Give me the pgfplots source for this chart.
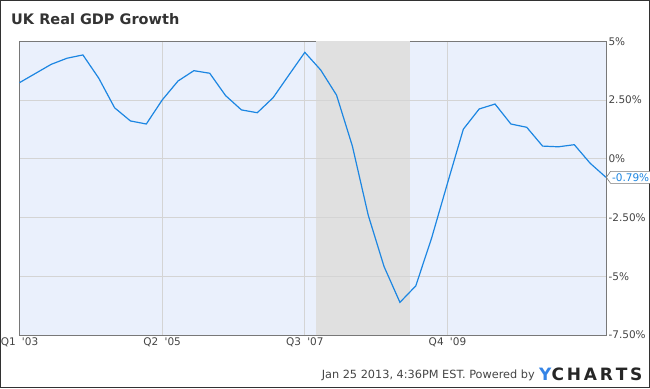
\documentclass[border=0pt]{standalone}
\usepackage{pgfplots}
\pgfplotsset{compat=1.18}
\usepackage{fontspec}
\setmainfont{DejaVu Sans}
\usetikzlibrary{shapes.symbols}
\definecolor{bgblue}{RGB}{234,240,252}
\definecolor{lineblue}{RGB}{28,134,226}
\definecolor{shade}{RGB}{224,224,224}
\definecolor{gridc}{RGB}{212,212,212}
\definecolor{axisc}{RGB}{120,120,120}
\definecolor{framec}{RGB}{50,50,50}
\definecolor{titlec}{RGB}{51,51,51}
\definecolor{tickc}{RGB}{68,68,68}
\definecolor{logoblue}{RGB}{52,132,230}
\pgfplotstableread{
q v
0 3.24
1 3.63
2 4.02
3 4.28
4 4.42
5 3.43
6 2.17
7 1.61
8 1.48
9 2.50
10 3.31
11 3.75
12 3.64
13 2.69
14 2.08
15 1.96
16 2.60
17 3.57
18 4.53
19 3.78
20 2.71
21 0.54
22 -2.40
23 -4.59
24 -6.11
25 -5.41
26 -3.37
27 -1.04
28 1.26
29 2.12
30 2.33
31 1.48
32 1.34
33 0.54
34 0.51
35 0.60
36 -0.19
37 -0.79
}\gdp
\begin{document}
\begin{tikzpicture}
\useasboundingbox (0pt,0pt) rectangle (650pt,388pt);
\draw[color=framec,line width=1pt] (0.5pt,0.5pt) rectangle (649.5pt,387.5pt);
\node[anchor=west,font=\bfseries\fontsize{14.5}{16}\selectfont,text=titlec,inner sep=0pt] at (11pt,369pt) {UK Real GDP Growth};
\begin{axis}[
  at={(19.5pt,53pt)}, anchor=south west,
  scale only axis, width=586.5pt, height=293.7pt,
  xmin=0, xmax=37, ymin=-7.5, ymax=5,
  axis background/.style={fill=bgblue},
  axis line style={color=axisc, line width=0.8pt},
  grid=major, major grid style={color=gridc, line width=0.8pt},
  major tick length=0pt,
  xtick={0,9,18,27},
  xticklabels={Q1\hspace{0.6em}\textquotesingle03, Q2\hspace{0.6em}\textquotesingle05, Q3\hspace{0.6em}\textquotesingle07, Q4\hspace{0.6em}\textquotesingle09},
  ytick={-7.5,-5,-2.5,0,2.5,5},
  yticklabels={-7.50\%,-5\%,-2.50\%,0\%,2.50\%,5\%},
  yticklabel pos=right,
  tick label style={font=\fontsize{10.5}{12}\selectfont, text=tickc},
  yticklabel style={anchor=west, xshift=-1pt},
  xticklabel style={yshift=1pt},
  clip=false,
]
\addplot[fill=shade, draw=none] coordinates {(18.68,-7.5) (24.65,-7.5) (24.65,5) (18.68,5)} -- cycle;
\addplot[color=gridc, line width=0.8pt, forget plot] coordinates {(18.68,2.5) (24.65,2.5)};
\addplot[color=gridc, line width=0.8pt, forget plot] coordinates {(18.68,0) (24.65,0)};
\addplot[color=gridc, line width=0.8pt, forget plot] coordinates {(18.68,-2.5) (24.65,-2.5)};
\addplot[color=gridc, line width=0.8pt, forget plot] coordinates {(18.68,-5) (24.65,-5)};
\addplot[color=lineblue, line width=1.2pt, mark=none] table[x=q, y=v] {\gdp};
\node[signal, signal to=west, signal pointer angle=110, draw=axisc, fill=white, text=lineblue, font=\fontsize{10.5}{12}\selectfont, inner xsep=1.5pt, inner ysep=2pt, anchor=west, line width=0.6pt] at (axis cs:37,-0.79) {-0.79\%};
\end{axis}
\node[anchor=east, font=\fontsize{11.3}{13}\selectfont, text=tickc, inner sep=0pt] at (535pt,12.5pt) {Jan 25 2013, 4:36PM EST. Powered by};
\node[anchor=west, font=\bfseries\fontsize{17}{18}\selectfont, inner sep=0pt] at (539pt,13.5pt) {\textcolor{logoblue}{Y}\textcolor{black!85}{C\,H\,A\,R\,T\,S}};
\end{tikzpicture}
\end{document}
